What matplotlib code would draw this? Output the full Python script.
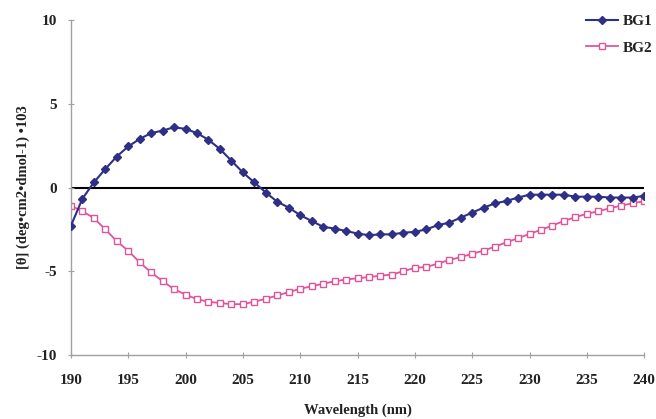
import matplotlib
matplotlib.use("Agg")
import matplotlib.pyplot as plt
import numpy as np

wavelength = list(range(190, 241))
bg1 = [-2.3, -0.68, 0.3, 1.1, 1.85, 2.45, 2.9, 3.25, 3.4, 3.6, 3.5, 3.25, 2.85, 2.3, 1.6, 0.9, 0.3,
       -0.3, -0.85, -1.2, -1.65, -2.0, -2.35, -2.45, -2.6, -2.75, -2.85, -2.8, -2.8, -2.7, -2.65, -2.5, -2.25,
       -2.1, -1.8, -1.5, -1.2, -0.95, -0.8, -0.6, -0.43, -0.43, -0.43, -0.43, -0.55, -0.55, -0.55, -0.6, -0.6, -0.6, -0.5]
bg2 = [-1.08, -1.42, -1.82, -2.5, -3.2, -3.78, -4.47, -5.07, -5.6, -6.07, -6.4, -6.67, -6.83, -6.9, -6.97, -6.97, -6.82,
       -6.65, -6.45, -6.25, -6.05, -5.9, -5.75, -5.6, -5.5, -5.42, -5.35, -5.27, -5.2, -5.0, -4.8, -4.75, -4.55,
       -4.33, -4.16, -3.96, -3.77, -3.53, -3.27, -3.03, -2.77, -2.53, -2.27, -2.0, -1.77, -1.57, -1.42, -1.24, -1.08, -0.94, -0.82]
series_names = ["BG1", "BG2"]
xticks = list(range(190, 241, 5))
yticks = [-10, -5, 0, 5, 10]

plt.rcParams['font.family'] = ['Liberation Serif', 'DejaVu Serif']

fig = plt.figure(figsize=(6.56, 4.19), dpi=100)
ax = fig.add_axes([0.108, 0.153, 0.874, 0.799])

ax.axhline(0, color='black', lw=1.5, zorder=1)
ax.plot(wavelength, bg1, color='#2E2F86', marker='D', markersize=4, lw=1.5,
        label=series_names[0], zorder=3)
ax.plot(wavelength, bg2, color='#E0559A', marker='s', markersize=4, markerfacecolor='white',
        markeredgewidth=1, lw=1.3, label=series_names[1], zorder=2)

ax.set_xlim(190, 240)
ax.set_ylim(-10, 10)
ax.set_xticks(xticks)
ax.set_yticks(yticks)
ax.set_xticklabels([str(v) for v in xticks])
ax.set_yticklabels([str(v) for v in yticks])

for s in ['top', 'right']:
    ax.spines[s].set_visible(False)
for s in ['left', 'bottom']:
    ax.spines[s].set_color('#A0A0A0')
    ax.spines[s].set_linewidth(1.0)

ax.tick_params(axis='both', direction='inout', length=4, width=0.8, color='#A0A0A0',
               labelsize=11, labelcolor='#222222')
ax.tick_params(axis='x', pad=12)
ax.tick_params(axis='y', pad=8)
for lbl in ax.get_xticklabels() + ax.get_yticklabels():
    lbl.set_fontweight('bold')

ax.set_xlabel('Wavelength (nm)', fontsize=10.5, fontweight='bold', color='#222222', labelpad=12)
ax.set_ylabel('[θ] (deg•cm2•dmol-1) •103', fontsize=10.5, fontweight='bold', color='#222222', labelpad=5)

leg = ax.legend(loc='upper right', bbox_to_anchor=(1.03, 1.045), frameon=False, fontsize=11,
                handlelength=2.1, handletextpad=0.3, labelspacing=0.85, borderaxespad=0.2)
for t in leg.get_texts():
    t.set_fontweight('bold')
    t.set_color('#222222')

fig.savefig('out.png', dpi=100)
